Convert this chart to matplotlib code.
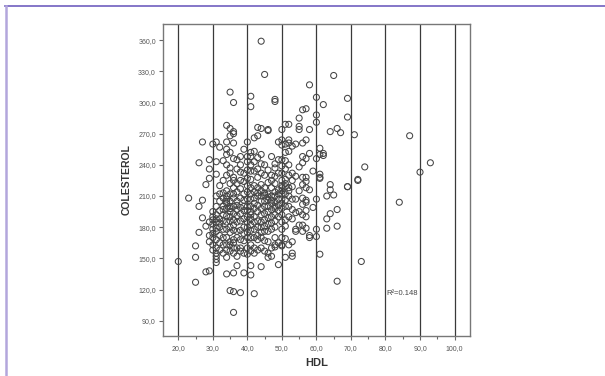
import numpy as np
import matplotlib
matplotlib.use("Agg")
import matplotlib.pyplot as plt
from matplotlib.lines import Line2D

# HDL value -> colesterol values, one list per HDL column
cols = {
    20: [147],
    23: [208],
    25: [162, 151, 127],
    26: [242, 200, 175],
    27: [262, 206, 189],
    28: [221, 137, 181],
    29: [245, 236, 227, 138, 185, 172, 166],
    30: [260, 195, 190, 183, 178, 170, 163, 158, 187, 174],
    31: [262, 243, 231, 210, 200, 192, 185, 179, 176, 168, 160, 155, 152, 149, 146, 188],
    32: [257, 220, 212, 205, 196, 188, 180, 172, 165, 158, 184],
    33: [225, 213, 208, 200, 192, 186, 178, 170, 163, 155, 244, 197],
    34: [278, 262, 255, 250, 240, 230, 215, 207, 203, 198, 191, 185, 178, 170, 163, 158, 151, 135, 205, 210],
    35: [310, 275, 268, 252, 237, 232, 222, 212, 205, 200, 195, 186, 180, 175, 166, 163, 157, 119, 190, 198],
    36: [300, 272, 270, 261, 246, 228, 225, 218, 208, 200, 193, 187, 182, 177, 168, 165, 160, 155, 136, 118, 98, 212],
    37: [245, 236, 222, 214, 205, 197, 191, 185, 176, 170, 160, 143, 152, 201],
    38: [248, 240, 233, 217, 208, 199, 193, 186, 177, 168, 160, 157, 117, 225],
    39: [255, 232, 224, 212, 206, 196, 188, 180, 174, 167, 155, 136, 200],
    40: [262, 248, 235, 220, 214, 207, 200, 196, 190, 185, 180, 175, 170, 160, 154, 227, 243],
    41: [306, 296, 252, 248, 240, 234, 226, 218, 212, 207, 200, 195, 188, 182, 177, 170, 163, 157, 143, 134, 192],
    42: [266, 253, 243, 234, 220, 214, 208, 198, 190, 185, 178, 170, 160, 155, 116, 203],
    43: [276, 268, 247, 236, 228, 218, 210, 201, 195, 186, 180, 172, 168, 158, 213],
    44: [359, 275, 250, 241, 232, 221, 215, 205, 198, 192, 185, 180, 175, 170, 160, 142, 210],
    45: [327, 240, 230, 218, 211, 205, 200, 193, 187, 181, 176, 167, 157, 213],
    46: [274, 273, 235, 223, 212, 206, 200, 195, 189, 183, 176, 166, 151, 155, 209],
    47: [248, 225, 218, 210, 203, 197, 190, 184, 178, 160, 152, 230, 206],
    48: [303, 301, 241, 237, 229, 222, 214, 210, 204, 198, 192, 186, 180, 170, 163, 161, 200],
    49: [262, 245, 232, 216, 207, 201, 196, 190, 165, 144, 212],
    50: [274, 264, 259, 245, 239, 232, 225, 218, 215, 212, 207, 203, 198, 192, 185, 178, 170, 163, 162, 220],
    51: [279, 260, 252, 244, 236, 226, 219, 212, 206, 200, 187, 181, 169, 151, 222],
    52: [279, 264, 261, 253, 240, 230, 218, 210, 200, 190, 163, 215],
    53: [258, 232, 219, 207, 197, 188, 166, 155, 152, 225],
    54: [260, 229, 207, 194, 178, 176],
    55: [285, 277, 274, 238, 215, 195, 182],
    56: [293, 261, 248, 242, 228, 221, 208, 202, 192, 182, 176],
    57: [294, 264, 246, 228, 224, 218, 206, 204, 196, 190, 179],
    58: [317, 274, 251, 216, 172, 170],
    59: [234, 199],
    60: [305, 288, 281, 246, 207, 178, 171],
    61: [256, 250, 231, 228, 227, 154],
    62: [298, 251, 249],
    63: [210, 188, 179],
    64: [272, 221, 216, 193],
    65: [326, 211],
    66: [275, 197, 181, 128],
    67: [271],
    69: [304, 286, 219, 219],
    71: [269],
    72: [226, 225],
    73: [147],
    74: [238],
    84: [204],
    87: [268],
    90: [233],
    93: [242],
}
hdl = np.array([h for h, v in cols.items() for _ in v])
colesterol = np.array([c for v in cols.values() for c in v])

x_ticks = [20, 30, 40, 50, 60, 70, 80, 90, 100]
x_labels = ["20,0", "30,0", "40,0", "50,0", "60,0", "70,0", "80,0", "90,0", "100,0"]
y_ticks = [90, 120, 150, 180, 210, 240, 270, 300, 330, 360]
y_labels = ["90,0", "120,0", "150,0", "180,0", "210,0", "240,0", "270,0", "300,0", "330,0", "360,0"]
r2_text = "R\u00b2=0.148"

plt.rcParams['font.family'] = ['Liberation Sans', 'DejaVu Sans']

fig = plt.figure(figsize=(6.05, 3.76), dpi=100)
ax = fig.add_axes([0.269, 0.107, 0.508, 0.829])

for xv in x_ticks:
    ax.axvline(xv, color='#3a3a3a', lw=0.9, zorder=1)

ax.scatter(hdl, colesterol, s=19, facecolors='none', edgecolors='#454545',
           linewidths=0.75, zorder=2)

ax.set_xlim(15.5, 104.5)
ax.set_ylim(75.5, 375.5)
ax.set_xticks(x_ticks)
ax.set_xticklabels(x_labels)
ax.set_xticks([25, 35, 45, 55, 65, 75, 85, 95], minor=True)
ax.set_yticks(y_ticks)
ax.set_yticklabels(y_labels)

ax.tick_params(axis='both', which='major', length=3, width=0.8, color='#666666',
               labelsize=5, labelcolor='#555555', pad=2)
ax.tick_params(axis='x', which='major', pad=4)
ax.tick_params(axis='x', which='minor', length=2, width=0.8, color='#666666')

for sp in ax.spines.values():
    sp.set_color('#777777')
    sp.set_linewidth(1.0)

ax.text(80.3, 116, r2_text, fontsize=5.5, color='#444444', va='center', ha='left')

ax.set_xlabel("HDL", fontsize=8, fontweight='bold', color='#333333')
ax.set_ylabel("COLESTEROL", fontsize=7.5, fontweight='bold', color='#333333')
ax.xaxis.set_label_coords(0.5, -0.07)
ax.yaxis.set_label_coords(-0.1, 0.5)

# purple page frame (top and left edges)
fig.add_artist(Line2D([5 / 605, 1], [1 - 6 / 376, 1 - 6 / 376], transform=fig.transFigure,
                      color='#6f5fbf', lw=1.2))
fig.add_artist(Line2D([5.5 / 605, 5.5 / 605], [0, 1 - 6 / 376], transform=fig.transFigure,
                      color='#b3a6dc', lw=1.8))

fig.savefig("out.png", dpi=100)
